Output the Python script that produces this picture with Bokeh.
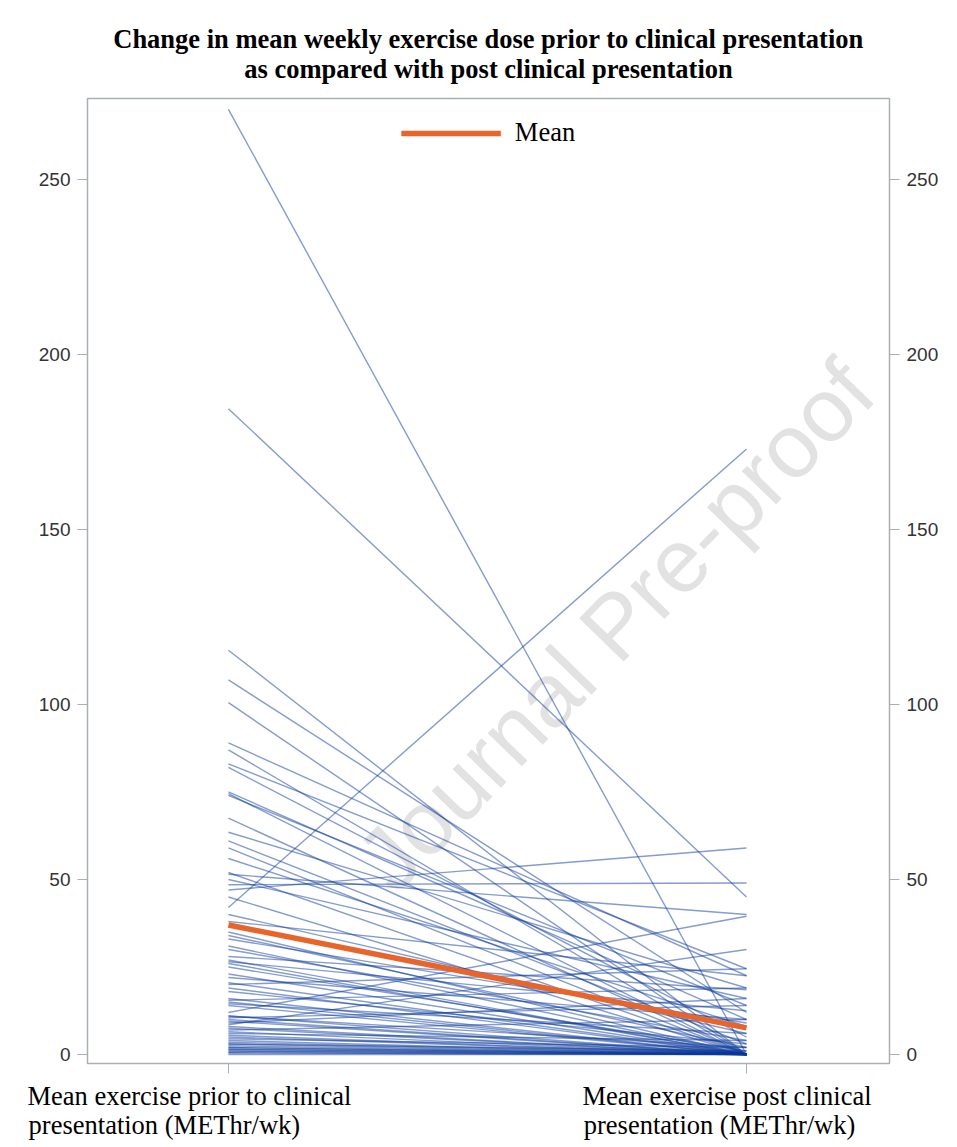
from bokeh.plotting import figure
from bokeh.models import Range1d, FixedTicker, LinearAxis, Label, Legend, LegendItem, Title
from bokeh.embed import file_html
from bokeh.resources import INLINE

# ---- data ----
categories = ["Mean exercise prior to clinical\npresentation (METhr/wk)",
              "Mean exercise post clinical\npresentation (METhr/wk)"]
pre = [270, 184.5, 42, 115.5, 107, 100.5, 89, 87, 83, 82, 75, 74.5, 74, 67.5, 63.5, 61,
       59, 56, 52, 51.5, 50, 47, 48.5, 45, 40, 38, 35, 34, 33, 31, 30, 28, 27, 26.5, 26,
       25, 23, 22, 20.5, 20, 19, 18, 16, 15.5, 15, 14.5, 14, 12, 11, 11, 10.5, 10, 9.5,
       9, 8.5, 8, 7.5, 7, 6.5, 6, 5.5, 5, 4.5, 4, 3.5, 3, 3, 2.5, 2, 2, 1.5, 1.5, 1, 1,
       0.5, 0.5, 0]
post = [0, 45, 173, 0, 12, 0, 22.5, 0, 24.5, 5, 10, 0, 14, 0, 19, 3,
        0, 8, 0, 40, 16, 59, 49, 0, 6, 22.5, 0, 2, 9, 0, 4, 18.5, 0, 12.5, 0,
        1, 0, 10, 0, 24.5, 0, 3, 0, 19, 0, 6, 0, 39.5, 0, 2, 14, 0, 0,
        16, 30, 0, 0, 10, 0, 4, 0, 0, 2, 0, 0, 0, 1, 0, 0, 0, 0, 0, 0, 0,
        0, 0, 0]
mean_vals = [37, 7.6]
y_ticks = [0, 50, 100, 150, 200, 250]

title_lines = ["Change in mean weekly exercise dose prior to clinical presentation",
               "as compared with post clinical presentation"]

SERIF = "Liberation Serif"
SERIF_SIZE = "26.5px"

p = figure(width=948, height=1146,
           x_range=Range1d(-0.272, 1.276), y_range=Range1d(-2.57, 273.1),
           output_backend="svg", toolbar_location=None,
           min_border_left=87, min_border_right=59, min_border_top=98, min_border_bottom=83)

def style_title(t, standoff):
    t.align = "center"
    t.text_font = SERIF
    t.text_font_style = "bold"
    t.text_font_size = SERIF_SIZE
    t.text_color = "black"
    t.text_line_height = 1.0
    t.standoff = standoff

t2 = Title(text=title_lines[1])
style_title(t2, 30)
p.add_layout(t2, "above")
p.title.text = title_lines[0]
style_title(p.title, -34)

p.grid.visible = False
p.outline_line_color = "#a9afb5"
p.outline_line_width = 1.5
p.background_fill_color = "white"
p.border_fill_color = "white"

# watermark (kept inside the frame so it is not cut off)
wm = Label(x=0.747, y=122.6, text="Journal Pre-proof", angle=0.80,
           text_align="center", text_baseline="middle",
           text_font="Liberation Sans", text_font_size="90px",
           text_color="#e2e2e2", level="underlay")
p.add_layout(wm)

xs = [[0, 1] for _ in pre]
ys = [[a, b] for a, b in zip(pre, post)]
p.multi_line(xs, ys, line_color="#0b3a9c", line_alpha=0.5, line_width=1.4)

r_mean = p.line([0, 1], mean_vals, line_color="#E8642A", line_width=5.5)

legend = Legend(items=[LegendItem(label="Mean", renderers=[r_mean])],
                location="top_center", orientation="horizontal",
                border_line_color=None, background_fill_alpha=0,
                padding=0, margin=19, glyph_width=100, glyph_height=24,
                label_height=24, label_standoff=14,
                label_text_font=SERIF, label_text_font_size=SERIF_SIZE,
                label_text_color="black")
p.add_layout(legend)

gray = "#a9afb5"
def style_axis(ax):
    ax.axis_line_color = gray
    ax.major_tick_line_color = gray
    ax.major_tick_out = 10
    ax.major_tick_in = 0
    ax.minor_tick_line_color = None
    ax.major_label_text_font = "Liberation Sans"
    ax.major_label_text_font_size = "19px"
    ax.major_label_text_color = "#333333"
    ax.major_label_standoff = 7

p.yaxis.ticker = FixedTicker(ticks=y_ticks)
style_axis(p.yaxis[0])
right = LinearAxis(ticker=FixedTicker(ticks=y_ticks))
style_axis(right)
p.add_layout(right, "right")

# bottom axis: tick marks only
p.xaxis.ticker = FixedTicker(ticks=[0, 1])
style_axis(p.xaxis[0])
p.xaxis.major_label_overrides = {0: " ", 1: " "}
p.xaxis.major_label_text_font_size = "1px"
p.xaxis.major_label_standoff = 0

# category text: one axis per text line, ticks at each line's centre so the
# two lines of a category share the same left edge
line_centres = [[-0.0753, 0.9624], [-0.1236, 0.9479]]
for i, (centres, standoff) in enumerate(zip(line_centres, [3, -4])):
    texts = [c.split("\n")[i] for c in categories]
    ax = LinearAxis(ticker=FixedTicker(ticks=centres))
    ax.axis_line_color = None
    ax.major_tick_line_color = None
    ax.minor_tick_line_color = None
    ax.major_tick_out = 0
    ax.major_tick_in = 0
    ax.major_label_standoff = standoff
    ax.major_label_text_font = SERIF
    ax.major_label_text_font_size = SERIF_SIZE
    ax.major_label_text_color = "black"
    ax.major_label_overrides = {c: t for c, t in zip(centres, texts)}
    p.add_layout(ax, "below")

open("out.html", "w").write(file_html(p, INLINE))
